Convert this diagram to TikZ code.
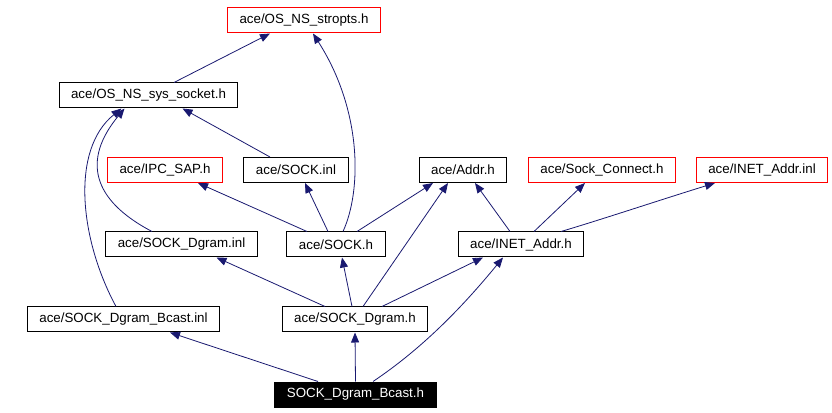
\documentclass[tikz,border=0pt]{standalone}
\usepackage{fontspec}
\setmainfont{Liberation Sans}
\usetikzlibrary{arrows.meta,calc}

\definecolor{edgeblue}{HTML}{191970}

\tikzset{
	file/.style = {draw, line width = 0.75pt, inner xsep = 9pt, inner ysep = 0pt,
		minimum height = 18.75pt, font = \fontsize{10pt}{12pt}\selectfont},
	missing/.style = {file, draw = red},
	root/.style = {file, fill = black, text = white},
	dep/.style = {edgeblue, line width = 0.6pt,
		-{Triangle[length = 7.5pt, width = 6pt]}}
}

\begin{document}
\begin{tikzpicture}[x = 0.75pt, y = -0.75pt]

	\useasboundingbox (0, 0) rectangle (832, 413);

	% Header files, one row at a time (pixel coordinates, y down)

	\node [missing] (stropts)     at (304, 20.5)   {ace/OS\_NS\_stropts.h};
	\node [file]    (syssocket)   at (148.5, 95.5) {ace/OS\_NS\_sys\_socket.h};

	\node [missing] (ipcsap)      at (165, 170)    {ace/IPC\_SAP.h};
	\node [file]    (sockinl)     at (296, 170)    {ace/SOCK.inl};
	\node [file]    (addr)        at (463, 170)    {ace/Addr.h};
	\node [missing] (sockconnect) at (602, 170)    {ace/Sock\_Connect.h};
	\node [missing] (inetinl)     at (762, 170)    {ace/INET\_Addr.inl};

	\node [file]    (dgraminl)    at (181.5, 244.5) {ace/SOCK\_Dgram.inl};
	\node [file]    (sockh)       at (336, 244.5)   {ace/SOCK.h};
	\node [file]    (inetaddr)    at (521, 244.5)   {ace/INET\_Addr.h};

	\node [file]    (bcastinl)    at (123.5, 319.5) {ace/SOCK\_Dgram\_Bcast.inl};
	\node [file]    (dgramh)      at (355, 319.5)   {ace/SOCK\_Dgram.h};

	\node [root]    (bcasth)      at (355.5, 394.5) {SOCK\_Dgram\_Bcast.h};

	% Straight dependencies: child/offset/parent/offset

	\foreach \a/\da/\b/\db in {syssocket/25.5/stropts/-34,
		sockinl/-26/syssocket/34,
		sockh/-29/ipcsap/33,
		sockh/-8/sockinl/9,
		sockh/21/addr/-30,
		inetaddr/-11/addr/12,
		inetaddr/13/sockconnect/-17,
		dgramh/-30/dgraminl/35,
		dgramh/-3/sockh/6,
		dgramh/8/addr/-15,
		dgramh/27/inetaddr/-38,
		bcasth/-37.5/bcastinl/46.5,
		bcasth/0/dgramh/0}
		\draw [dep] ($(\a.north) + (\da, 0)$) -- ($(\b.south) + (\db, 0)$);

	% Curved dependencies

	\draw [dep] ($(sockh.north) + (7, 0)$)
		.. controls (362, 190) and (362, 110) .. ($(stropts.south) + (9, 0)$);
	\draw [dep] ($(dgraminl.north) + (-29.5, 0)$)
		.. controls (92, 200) and (82, 160) .. ($(syssocket.south) + (-24, 0)$);
	\draw [dep] ($(bcastinl.north) + (-7.5, 0)$)
		.. controls (80, 240) and (70, 150) .. ($(syssocket.south) + (-27, 0)$);
	\draw [dep] ($(inetaddr.north) + (40, 0)$)
		.. controls (600, 220) and (660, 200) .. ($(inetinl.south) + (-47, 0)$);
	\draw [dep] ($(bcasth.north) + (17.5, 0)$)
		.. controls (420, 350) and (460, 310) .. ($(inetaddr.south) + (-18, 0)$);

\end{tikzpicture}
\end{document}
